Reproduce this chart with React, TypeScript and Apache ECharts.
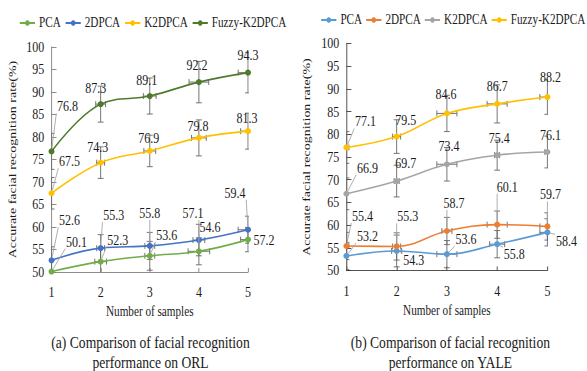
import React, { useEffect, useRef } from "react";
import * as echarts from "echarts";

// The reference is horizontally squeezed; we render wider and scale back.
const S = 0.8;
const FONT = "'Liberation Serif', 'Times New Roman', serif";
const TEXT = "#1a1a1a";

// ---------- data ----------
const X = [1, 2, 3, 4, 5];
const NAMES = ["PCA", "2DPCA", "K2DPCA", "Fuzzy-K2DPCA"];
const Y_MIN = 50;
const Y_MAX = 100;
const Y_STEP = 5;

// (a) ORL
const ORL_PCA = [50.1, 52.3, 53.6, 54.6, 57.2];
const ORL_2DPCA = [52.6, 55.3, 55.8, 57.1, 59.4];
const ORL_K2DPCA = [67.5, 74.3, 76.9, 79.8, 81.3];
const ORL_FUZZY = [76.8, 87.3, 89.1, 92.2, 94.3];
// error bars (value units / sample units)
const ORL_YERR = [
  [2.5, 3.0, 3.2, 3.0, 2.7],
  [3.0, 3.0, 3.0, 3.5, 3.0],
  [3.5, 3.5, 3.5, 4.0, 4.0],
  [4.0, 4.0, 4.0, 4.6, 4.5],
];
const ORL_XERR = [
  [0, 0.12, 0.1, 0.22, 0.15],
  [0, 0.08, 0.1, 0.12, 0.2],
  [0, 0.08, 0.12, 0.15, 0.15],
  [0, 0.1, 0.13, 0.2, 0.2],
];

// (b) YALE
const YALE_PCA = [53.2, 54.3, 53.6, 55.8, 58.4];
const YALE_2DPCA = [55.4, 55.3, 58.7, 60.1, 59.7];
const YALE_K2DPCA = [66.9, 69.7, 73.4, 75.4, 76.1];
const YALE_FUZZY = [77.1, 79.5, 84.6, 86.7, 88.2];
const YALE_YERR = [
  [3.0, 3.5, 3.0, 3.0, 3.0],
  [3.0, 3.0, 3.0, 3.0, 3.0],
  [3.5, 3.5, 3.7, 3.3, 3.5],
  [3.5, 3.7, 4.0, 4.2, 3.8],
];
const YALE_XERR = [
  [0, 0.1, 0.2, 0.15, 0.15],
  [0.05, 0.08, 0.1, 0.2, 0.15],
  [0, 0.05, 0.2, 0.05, 0.05],
  [0.05, 0.08, 0.2, 0.2, 0.15],
];

// ---------- styles / label placement (screen px: dx, dy, leader) ----------
const ORL_COLORS = ["#70AD47", "#4472C4", "#FFC000", "#4F7A2C"];
const YALE_COLORS = ["#5B9BD5", "#ED7D31", "#A5A5A5", "#FFC000"];

const ORL_LABEL_OFF = [
  [[25, -30, 1], [17, -22, 1], [17, -21, 1], [11, -24, 1], [16, 0, 0]],
  [[18, -40, 1], [13, -33, 1], [0, -33, 1], [-6, -27, 1], [-13, -37, 1]],
  [[18, -32, 1], [-3, -16, 0], [-1, -13, 0], [-1, -12, 0], [-1, -13, 0]],
  [[16, -45, 1], [-5, -16, 0], [-3, -16, 0], [-2, -17, 0], [0, -18, 0]],
];
const YALE_LABEL_OFF = [
  [[21, -20, 1], [17, 9, 1], [19, -15, 1], [17, 10, 1], [19, 9, 1]],
  [[16, -30, 1], [11, -30, 1], [7, -28, 1], [10, -38, 1], [3, -32, 1]],
  [[21, -26, 1], [9, -18, 0], [2, -18, 0], [2, -17, 0], [3, -17, 0]],
  [[19, -26, 1], [9, -17, 0], [-1, -19, 0], [0, -18, 0], [3, -20, 0]],
];

const ORL_CAPTION = ["(a) Comparison of facial recognition", "performance on ORL"];
const YALE_CAPTION = ["(b) Comparison of facial recognition", "performance on YALE"];

const Y_NAME = "Accurate facial recognition rate(%)";
const X_NAME = "Number of samples";

type Panel = {
  series: number[][];
  yerr: number[][];
  xerr: number[][];
  colors: string[];
  offsets: number[][][];
  caption: string[];
  width: number;
  grid: { left: number; top: number; width: number; height: number };
  legendLeft: number;
  legendTop: number;
  legendGap: number;
  axisColor: string;
  yNameGap: number;
  captionX: number;
};

const PANELS: Panel[] = [
  {
    series: [ORL_PCA, ORL_2DPCA, ORL_K2DPCA, ORL_FUZZY],
    yerr: ORL_YERR,
    xerr: ORL_XERR,
    colors: ORL_COLORS,
    offsets: ORL_LABEL_OFF,
    caption: ORL_CAPTION,
    width: 290 / S,
    grid: { left: 50 / S, top: 47, width: 198 / S, height: 225 },
    legendLeft: 19 / S,
    legendTop: 16,
    legendGap: 5,
    axisColor: "#7f7f7f",
    yNameGap: 34,
    captionX: 150.5 / S,
  },
  {
    series: [YALE_PCA, YALE_2DPCA, YALE_K2DPCA, YALE_FUZZY],
    yerr: YALE_YERR,
    xerr: YALE_XERR,
    colors: YALE_COLORS,
    offsets: YALE_LABEL_OFF,
    caption: YALE_CAPTION,
    width: 297 / S,
    grid: { left: 56 / S, top: 43.5, width: 201 / S, height: 227 },
    legendLeft: 30 / S,
    legendTop: 13,
    legendGap: 4,
    axisColor: "#404040",
    yNameGap: 38,
    captionX: 160 / S,
  },
];

function buildOption(p: Panel): any {
  const series: any[] = [];

  // error bars
  const errData: number[][] = [];
  p.series.forEach((vals, s) =>
    vals.forEach((v, i) => errData.push([X[i], v, p.yerr[s][i], p.xerr[s][i]]))
  );
  series.push({
    type: "custom",
    name: "errorbars",
    data: errData,
    encode: { x: 0, y: 1 },
    clip: true,
    z: 2,
    silent: true,
    renderItem: (_params: any, api: any) => {
      const x = api.value(0);
      const y = api.value(1);
      const ey = api.value(2);
      const ex = api.value(3);
      const c = api.coord([x, y]);
      const top = api.coord([x, y + ey]);
      const bot = api.coord([x, y - ey]);
      const cap = 3;
      const style = { stroke: "#666666", lineWidth: 1 };
      const children: any[] = [
        { type: "line", shape: { x1: c[0], y1: top[1], x2: c[0], y2: bot[1] }, style },
        { type: "line", shape: { x1: c[0] - cap / S, y1: top[1], x2: c[0] + cap / S, y2: top[1] }, style },
        { type: "line", shape: { x1: c[0] - cap / S, y1: bot[1], x2: c[0] + cap / S, y2: bot[1] }, style },
      ];
      if (ex > 0) {
        const l = api.coord([x - ex, y]);
        const r = api.coord([x + ex, y]);
        children.push(
          { type: "line", shape: { x1: l[0], y1: c[1], x2: r[0], y2: c[1] }, style },
          { type: "line", shape: { x1: l[0], y1: c[1] - cap, x2: l[0], y2: c[1] + cap }, style },
          { type: "line", shape: { x1: r[0], y1: c[1] - cap, x2: r[0], y2: c[1] + cap }, style }
        );
      }
      return { type: "group", children };
    },
  });

  // lines
  p.series.forEach((vals, s) => {
    series.push({
      type: "line",
      name: NAMES[s],
      data: vals.map((v, i) => [X[i], v]),
      smooth: 0.4,
      symbol: "circle",
      symbolSize: [7.5, 6],
      lineStyle: { width: 1.6, color: p.colors[s] },
      itemStyle: { color: p.colors[s] },
      z: 3,
    });
  });

  // data labels with leader lines
  const lblData: number[][] = [];
  p.series.forEach((vals, s) => vals.forEach((v, i) => lblData.push([X[i], v, s, i])));
  series.push({
    type: "custom",
    name: "labels",
    data: lblData,
    encode: { x: 0, y: 1 },
    clip: false,
    z: 5,
    silent: true,
    renderItem: (_params: any, api: any) => {
      const x = api.value(0);
      const y = api.value(1);
      const s = api.value(2);
      const i = api.value(3);
      const c = api.coord([x, y]);
      const off = p.offsets[s][i];
      const lx = c[0] + off[0] / S;
      const ly = c[1] + off[1];
      const children: any[] = [];
      if (off[2]) {
        const hw = 14;
        const hh = 7;
        const qx = Math.min(Math.max(c[0], lx - hw), lx + hw);
        const qy = Math.min(Math.max(c[1], ly - hh), ly + hh);
        const dx = qx - c[0];
        const dy = qy - c[1];
        const d = Math.hypot(dx, dy);
        if (d > 5) {
          const sx = c[0] + (dx / d) * 3.5;
          const sy = c[1] + (dy / d) * 3.5;
          children.push({
            type: "line",
            shape: { x1: sx, y1: sy, x2: qx, y2: qy },
            style: { stroke: "#a6a6a6", lineWidth: 1 },
          });
        }
      }
      children.push({
        type: "text",
        x: lx,
        y: ly,
        style: {
          text: Number(y).toFixed(1),
          align: "center",
          verticalAlign: "middle",
          fontFamily: FONT,
          fontSize: 15,
          fill: TEXT,
        },
      });
      return { type: "group", children };
    },
  });

  return {
    animation: false,
    backgroundColor: "#fff",
    textStyle: { fontFamily: FONT, color: TEXT },
    legend: {
      data: NAMES,
      orient: "horizontal",
      left: p.legendLeft,
      top: p.legendTop,
      width: 420,
      padding: 0,
      itemWidth: 19,
      itemHeight: 7,
      itemGap: p.legendGap,
      selectedMode: false,
      textStyle: { fontFamily: FONT, fontSize: 14, color: TEXT },
    },
    grid: { ...p.grid, containLabel: false },
    xAxis: {
      type: "value",
      min: X[0],
      max: X[X.length - 1],
      interval: 1,
      name: X_NAME,
      nameLocation: "middle",
      nameGap: 32,
      nameTextStyle: { fontFamily: FONT, fontSize: 14, color: TEXT },
      axisLine: { show: true, lineStyle: { color: p.axisColor, width: 1 } },
      axisTick: { show: true, inside: true, length: 4, lineStyle: { color: p.axisColor } },
      axisLabel: { fontFamily: FONT, fontSize: 15, color: TEXT, margin: 13 },
      splitLine: { show: false },
    },
    yAxis: {
      type: "value",
      min: Y_MIN,
      max: Y_MAX,
      interval: Y_STEP,
      name: Y_NAME,
      nameLocation: "middle",
      nameGap: p.yNameGap,
      nameTextStyle: { fontFamily: FONT, fontSize: 14, color: TEXT },
      axisLine: { show: true, lineStyle: { color: p.axisColor, width: 1 } },
      axisTick: { show: true, inside: true, length: 5 / S, lineStyle: { color: p.axisColor } },
      axisLabel: { fontFamily: FONT, fontSize: 15, color: TEXT, margin: 9 },
      splitLine: { show: false },
    },
    graphic: [
      {
        type: "text",
        x: p.captionX,
        y: 342,
        style: {
          text: p.caption[0],
          align: "center",
          verticalAlign: "middle",
          fontFamily: FONT,
          fontSize: 17,
          fill: TEXT,
        },
      },
      {
        type: "text",
        x: p.captionX,
        y: 362,
        style: {
          text: p.caption[1],
          align: "center",
          verticalAlign: "middle",
          fontFamily: FONT,
          fontSize: 17,
          fill: TEXT,
        },
      },
    ],
    series,
  };
}

function ChartPanel({ panel }: { panel: Panel }) {
  const ref = useRef<HTMLDivElement>(null);
  useEffect(() => {
    if (!ref.current) return;
    const chart = echarts.init(ref.current, null, { renderer: "svg" });
    chart.setOption(buildOption(panel));
    return () => chart.dispose();
  }, [panel]);
  return <div ref={ref} style={{ width: panel.width, height: 371, flex: "none" }} />;
}

export default function App() {
  return (
    <div
      style={{
        position: "fixed",
        left: 0,
        top: 0,
        width: 587,
        height: 371,
        overflow: "hidden",
        background: "#fff",
      }}
    >
      <div
        style={{
          display: "flex",
          width: 587 / S,
          height: 371,
          transform: `scaleX(${S})`,
          transformOrigin: "0 0",
        }}
      >
        {PANELS.map((p, k) => (
          <ChartPanel key={k} panel={p} />
        ))}
      </div>
    </div>
  );
}
